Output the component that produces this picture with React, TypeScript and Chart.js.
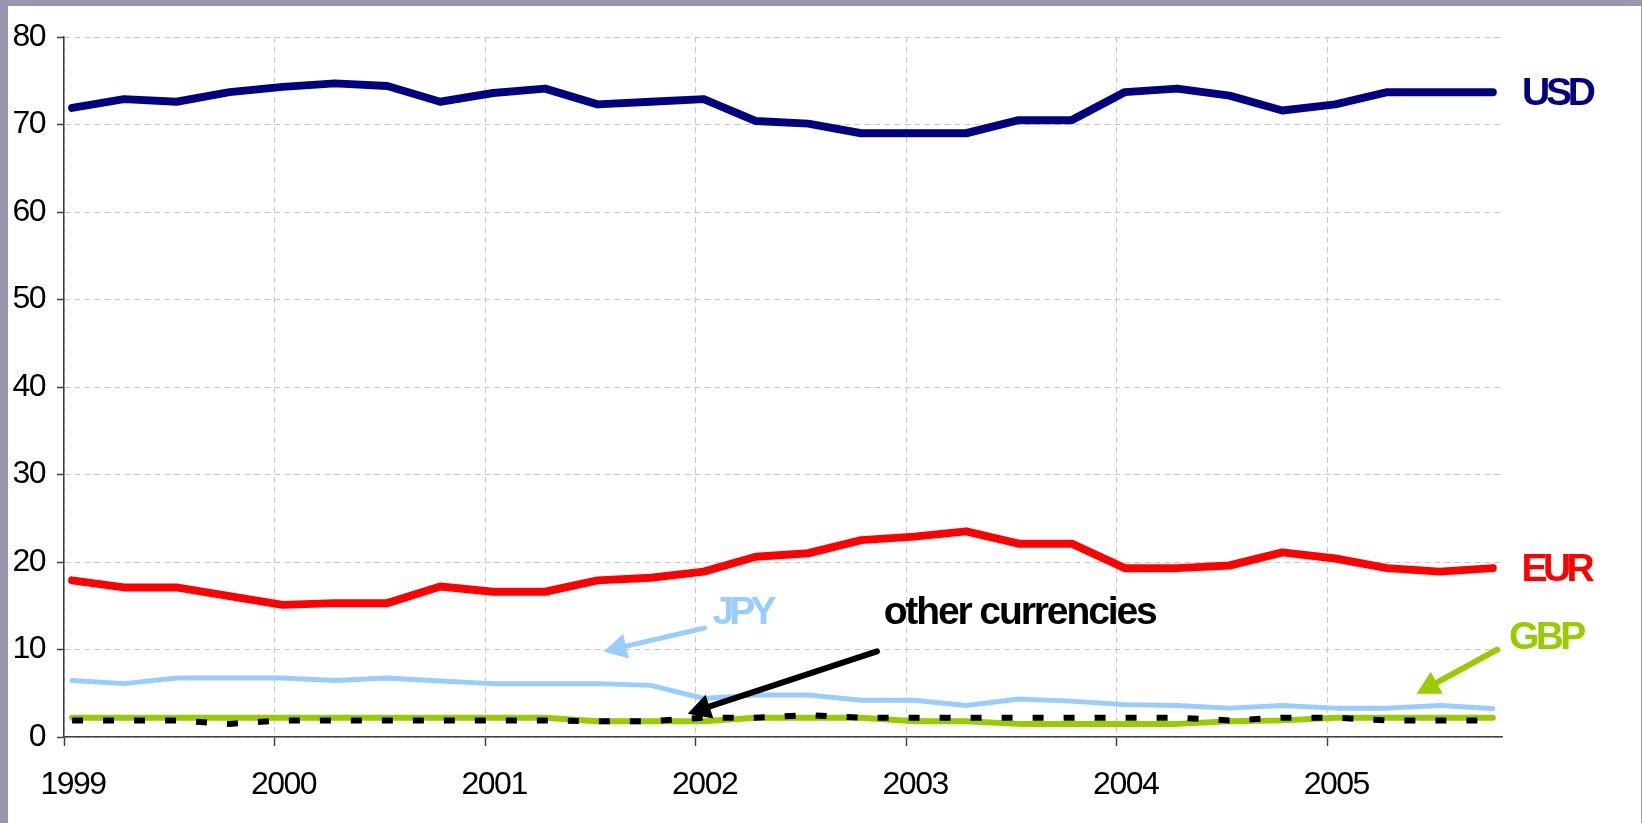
import React, { useEffect, useRef } from "react";
import { Chart, registerables } from "chart.js";

Chart.register(...registerables);

// Observation dates (quarterly, mid-month)
const dates = [
  "1999-01-15", "1999-04-15", "1999-07-15", "1999-10-15",
  "2000-01-15", "2000-04-15", "2000-07-15", "2000-10-15",
  "2001-01-15", "2001-04-15", "2001-07-15", "2001-10-15",
  "2002-01-15", "2002-04-15", "2002-07-15", "2002-10-15",
  "2003-01-15", "2003-04-15", "2003-07-15", "2003-10-15",
  "2004-01-15", "2004-04-15", "2004-07-15", "2004-10-15",
  "2005-01-15", "2005-04-15", "2005-07-15", "2005-10-15",
];

const usd = [71.9, 72.9, 72.6, 73.7, 74.3, 74.7, 74.4, 72.6, 73.6, 74.1, 72.3, 72.6, 72.9, 70.4, 70.1, 69.0, 69.0, 69.0, 70.5, 70.5, 73.7, 74.1, 73.3, 71.6, 72.3, 73.7, 73.7, 73.7];
const eur = [17.9, 17.1, 17.1, 16.1, 15.1, 15.3, 15.3, 17.2, 16.6, 16.6, 17.9, 18.2, 18.9, 20.6, 21.0, 22.5, 22.9, 23.5, 22.1, 22.1, 19.3, 19.3, 19.6, 21.1, 20.4, 19.3, 18.9, 19.3];
const jpy = [6.45, 6.1, 6.75, 6.75, 6.75, 6.45, 6.75, 6.4, 6.1, 6.1, 6.1, 5.9, 4.4, 4.8, 4.8, 4.2, 4.2, 3.6, 4.35, 4.1, 3.7, 3.6, 3.3, 3.6, 3.3, 3.3, 3.6, 3.25];
const gbp = [2.2, 2.2, 2.2, 2.2, 2.2, 2.2, 2.2, 2.2, 2.2, 2.2, 1.8, 1.8, 1.8, 2.2, 2.2, 2.2, 1.8, 1.8, 1.5, 1.5, 1.5, 1.5, 1.8, 1.9, 2.2, 2.2, 2.2, 2.2];
const other = [1.9, 1.9, 1.9, 1.5, 1.9, 1.9, 1.9, 1.9, 1.9, 1.9, 1.8, 1.8, 2.2, 2.2, 2.5, 2.2, 2.2, 2.2, 2.2, 2.2, 2.2, 2.2, 1.9, 2.2, 2.2, 1.9, 1.9, 1.9];

const yearTicks = [1999, 2000, 2001, 2002, 2003, 2004, 2005];
const yTicks = [0, 10, 20, 30, 40, 50, 60, 70, 80];

// Text labels placed in data coordinates (left edge, vertical centre of capitals)
const labelTexts = ["USD", "EUR", "GBP", "JPY", "other currencies"];
const labelX = [2005.925, 2005.923, 2005.863, 2002.08, 2002.893];
const labelY = [73.86, 19.46, 11.61, 14.47, 14.51];
const labelColors = ["#000080", "#FF0000", "#99CC00", "#99CCFF", "#000000"];
const labelSpacing = [-4.2, -4.6, -3.6, -4.8, -2.1];

// Arrows in data coordinates (tail -> tip)
const arrowFromX = [2002.042, 2002.861, 2005.807];
const arrowFromY = [12.46, 9.78, 9.98];
const arrowToX = [2001.563, 2001.962, 2005.424];
const arrowToY = [9.78, 2.66, 4.95];
const arrowColors = ["#99CCFF", "#000000", "#99CC00"];
const arrowWidths = [5, 6, 6];

const toYear = (d: string) => {
  const [y, m, day] = d.split("-").map(Number);
  const start = Date.UTC(y, 0, 1);
  const end = Date.UTC(y + 1, 0, 1);
  return y + (Date.UTC(y, m - 1, day) - start) / (end - start);
};

const xs = dates.map(toYear);
const pts = (vals: number[]) => vals.map((v, i) => ({ x: xs[i], y: v }));

const FONT = '"Liberation Sans", Arial, Helvetica, sans-serif';
const LABEL_SIZE = 39;

const bgPlugin = {
  id: "bg",
  beforeDraw(chart: any) {
    const ctx = chart.ctx;
    ctx.save();
    ctx.fillStyle = "#9696AE";
    ctx.fillRect(0, 0, chart.width, chart.height);
    ctx.fillStyle = "#FFFFFF";
    ctx.fillRect(8, 6, 1633, chart.height - 6);
    ctx.restore();
    (ctx as any).letterSpacing = "-1.5px";
  },
};

const annotPlugin = {
  id: "annot",
  afterDraw(chart: any) {
    const ctx = chart.ctx;
    const xS = chart.scales.x;
    const yS = chart.scales.y;
    ctx.save();
    ctx.setLineDash([]);
    for (let i = 0; i < arrowFromX.length; i++) {
      const x1 = xS.getPixelForValue(arrowFromX[i]);
      const y1 = yS.getPixelForValue(arrowFromY[i]);
      const x2 = xS.getPixelForValue(arrowToX[i]);
      const y2 = yS.getPixelForValue(arrowToY[i]);
      const ang = Math.atan2(y2 - y1, x2 - x1);
      const hl = 23;
      const hw = 12.5;
      const c = Math.cos(ang);
      const s = Math.sin(ang);
      const bx = x2 - hl * c;
      const by = y2 - hl * s;
      ctx.strokeStyle = arrowColors[i];
      ctx.fillStyle = arrowColors[i];
      ctx.lineWidth = arrowWidths[i];
      ctx.lineCap = "round";
      ctx.beginPath();
      ctx.moveTo(x1, y1);
      ctx.lineTo(bx + 2 * c, by + 2 * s);
      ctx.stroke();
      ctx.beginPath();
      ctx.moveTo(x2, y2);
      ctx.lineTo(bx + hw * s, by - hw * c);
      ctx.lineTo(bx - hw * s, by + hw * c);
      ctx.closePath();
      ctx.fill();
    }
    ctx.font = `bold ${LABEL_SIZE}px ${FONT}`;
    ctx.textAlign = "left";
    ctx.textBaseline = "alphabetic";
    for (let i = 0; i < labelTexts.length; i++) {
      (ctx as any).letterSpacing = `${labelSpacing[i]}px`;
      ctx.fillStyle = labelColors[i];
      ctx.fillText(
        labelTexts[i],
        xS.getPixelForValue(labelX[i]),
        yS.getPixelForValue(labelY[i]) + 0.358 * LABEL_SIZE
      );
    }
    ctx.restore();
    (ctx as any).letterSpacing = "0px";
  },
};

export default function App() {
  const ref = useRef<HTMLCanvasElement | null>(null);
  useEffect(() => {
    if (!ref.current) return;
    const chart = new Chart(ref.current, {
      type: "line",
      data: {
        datasets: [
          {
            label: "other currencies",
            data: pts(other),
            borderColor: "#000000",
            borderWidth: 6,
            borderDash: [11, 20],
            borderCapStyle: "butt",
            borderJoinStyle: "miter",
            pointRadius: 0,
            tension: 0,
          },
          {
            label: "GBP",
            data: pts(gbp),
            borderColor: "#99CC00",
            borderWidth: 6,
            borderCapStyle: "round",
            borderJoinStyle: "round",
            pointRadius: 0,
            tension: 0,
          },
          {
            label: "JPY",
            data: pts(jpy),
            borderColor: "#99CCFF",
            borderWidth: 5,
            borderCapStyle: "round",
            borderJoinStyle: "round",
            pointRadius: 0,
            tension: 0,
          },
          {
            label: "EUR",
            data: pts(eur),
            borderColor: "#FF0000",
            borderWidth: 8,
            borderCapStyle: "round",
            borderJoinStyle: "round",
            pointRadius: 0,
            tension: 0,
          },
          {
            label: "USD",
            data: pts(usd),
            borderColor: "#000080",
            borderWidth: 8,
            borderCapStyle: "round",
            borderJoinStyle: "round",
            pointRadius: 0,
            tension: 0,
          },
        ],
      } as any,
      options: {
        responsive: false,
        animation: false,
        devicePixelRatio: 1,
        layout: { padding: { left: 0, right: 140, top: 37, bottom: 0 } },
        plugins: { legend: { display: false }, tooltip: { enabled: false } },
        elements: { line: { fill: false } },
        scales: {
          x: {
            type: "linear",
            min: 1999,
            max: 2005.83,
            afterBuildTicks: (scale: any) => {
              scale.ticks = yearTicks.map((v) => ({ value: v }));
            },
            afterFit: (scale: any) => {
              scale.height = 86;
            },
            grid: {
              color: "#C8C8C8",
              lineWidth: 1,
              tickColor: "#404040",
              tickLength: 9,
              tickWidth: 1.5,
              tickBorderDash: [],
            },
            border: { display: true, color: "#404040", width: 1.5, dash: [6, 4] },
            ticks: {
              color: "#000000",
              font: { family: FONT, size: 32 },
              padding: 20,
              labelOffset: 9,
              maxRotation: 0,
              autoSkip: false,
              callback: (v: any) => String(v),
            },
          },
          y: {
            type: "linear",
            min: 0,
            max: 80,
            afterBuildTicks: (scale: any) => {
              scale.ticks = yTicks.map((v) => ({ value: v }));
            },
            afterFit: (scale: any) => {
              scale.width = 64;
            },
            grid: {
              color: "#C8C8C8",
              lineWidth: 1,
              tickColor: "#404040",
              tickLength: 7,
              tickWidth: 1.5,
              tickBorderDash: [],
            },
            border: { display: true, color: "#404040", width: 1.5, dash: [6, 4] },
            ticks: {
              color: "#000000",
              font: { family: FONT, size: 32 },
              padding: 12,
              callback: (v: any) => String(v),
            },
          },
        },
      } as any,
      plugins: [bgPlugin, annotPlugin],
    });
    return () => chart.destroy();
  }, []);
  return (
    <canvas
      ref={ref}
      width={1642}
      height={823}
      style={{ position: "fixed", left: 0, top: 0, width: 1642, height: 823, display: "block" }}
    />
  );
}
